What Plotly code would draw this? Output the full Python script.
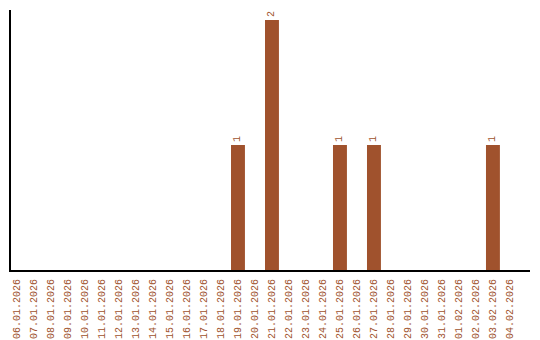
import plotly.graph_objects as go

dates = ["06.01.2026", "07.01.2026", "08.01.2026", "09.01.2026", "10.01.2026",
         "11.01.2026", "12.01.2026", "13.01.2026", "14.01.2026", "15.01.2026",
         "16.01.2026", "17.01.2026", "18.01.2026", "19.01.2026", "20.01.2026",
         "21.01.2026", "22.01.2026", "23.01.2026", "24.01.2026", "25.01.2026",
         "26.01.2026", "27.01.2026", "28.01.2026", "29.01.2026", "30.01.2026",
         "31.01.2026", "01.02.2026", "02.02.2026", "03.02.2026", "04.02.2026"]
counts = [0, 0, 0, 0, 0, 0, 0, 0, 0, 0, 0, 0, 0, 1, 0,
          2, 0, 0, 0, 1, 0, 1, 0, 0, 0, 0, 0, 0, 1, 0]

color = "#A0522D"
labels = [str(v) if v else "" for v in counts]

fig = go.Figure(go.Bar(
    x=list(range(len(dates))), y=counts, width=0.82,
    marker=dict(color=color, line=dict(width=0)),
    text=labels, textposition="outside", textangle=-90,
    textfont=dict(family="Liberation Mono", size=10, color=color),
    cliponaxis=False,
))

fig.update_layout(
    width=540, height=340,
    margin=dict(l=11, r=10, t=10, b=70, autoexpand=False),
    paper_bgcolor="white", plot_bgcolor="white",
    showlegend=False,
    xaxis=dict(
        range=[-0.353, 30.18], automargin=False,
        tickmode="array", tickvals=list(range(len(dates))), ticktext=dates,
        tickangle=-90, tickfont=dict(family="Liberation Mono", size=10, color=color),
        showgrid=False, zeroline=False,
        showline=True, linecolor="black", linewidth=2,
        ticks="outside", ticklen=3, tickcolor="rgba(0,0,0,0)",
    ),
    yaxis=dict(
        range=[0, 2.08], showticklabels=False, showgrid=False, zeroline=False,
        showline=True, linecolor="black", linewidth=2, ticks="",
        automargin=False,
    ),
)

fig.write_html("out.html")
